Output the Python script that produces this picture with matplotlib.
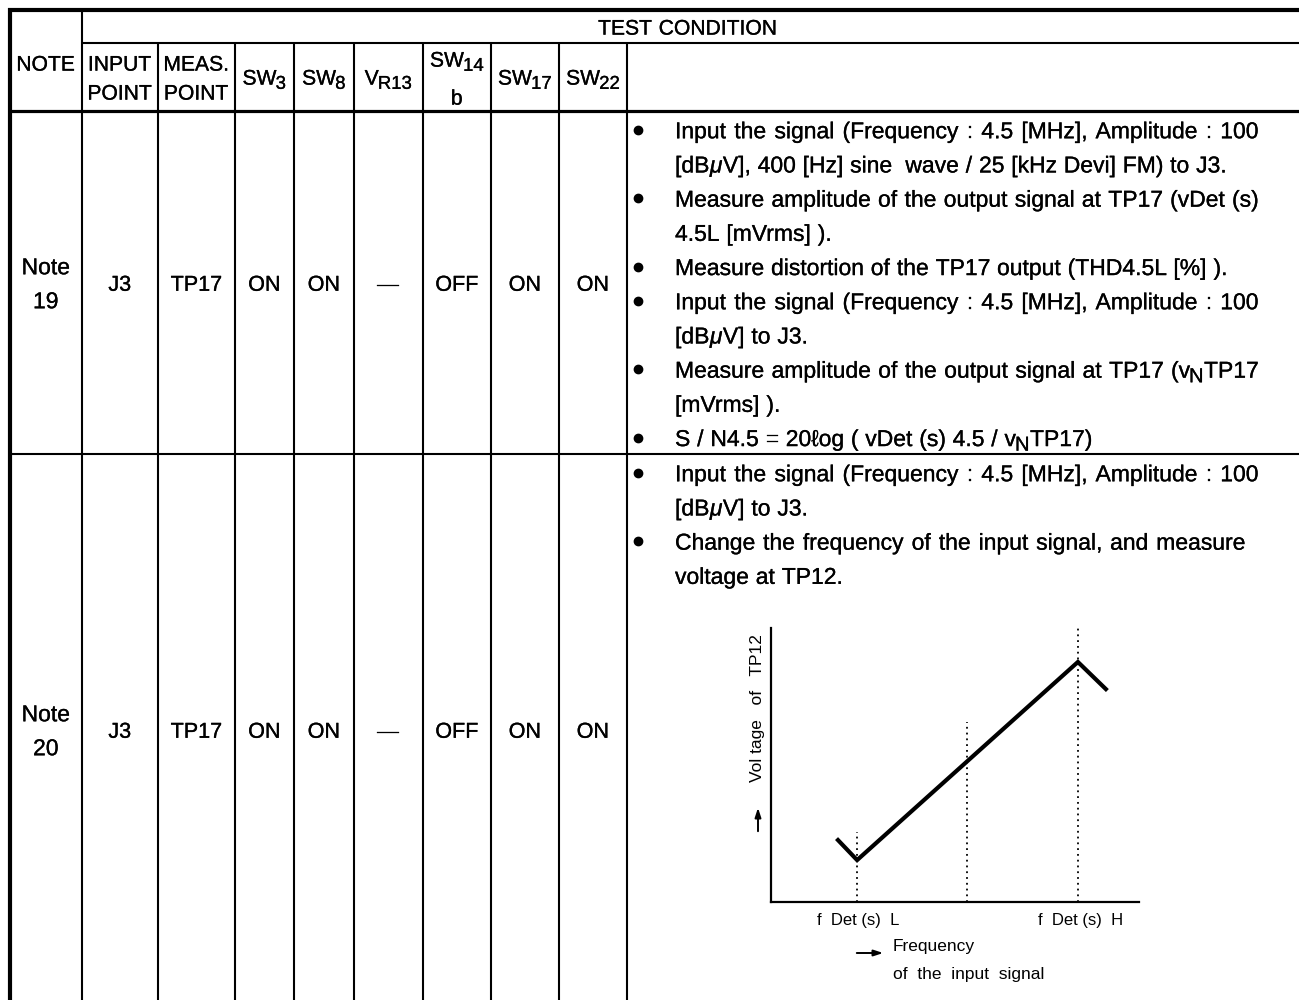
import matplotlib
matplotlib.use("Agg")
import matplotlib.pyplot as plt
from matplotlib import font_manager
import matplotlib.patheffects as pe

# ---------------- data ----------------
header_title = "TEST CONDITION"
col_headers = ["NOTE", "INPUT\nPOINT", "MEAS.\nPOINT", "SW_{3}", "SW_{8}", "V_{R13}", "SW_{14}\nb", "SW_{17}", "SW_{22}"]
notes = ["Note\n19", "Note\n20"]
input_point = ["J3", "J3"]
meas_point = ["TP17", "TP17"]
sw3 = ["ON", "ON"]
sw8 = ["ON", "ON"]
vr13 = ["\u2014", "\u2014"]
sw14b = ["OFF", "OFF"]
sw17 = ["ON", "ON"]
sw22 = ["ON", "ON"]

# (text, bullet, justified)
cond19 = [
    ("Input the signal (Frequency : 4.5 [MHz], Amplitude : 100", True, True),
    ("[dBμV], 400 [Hz] sine  wave / 25 [kHz Devi] FM) to J3.", False, False),
    ("Measure amplitude of the output signal at TP17 (vDet (s)", True, True),
    ("4.5L [mVrms] ).", False, False),
    ("Measure distortion of the TP17 output (THD4.5L [%] ).", True, False),
    ("Input the signal (Frequency : 4.5 [MHz], Amplitude : 100", True, True),
    ("[dBμV] to J3.", False, False),
    ("Measure amplitude of the output signal at TP17 (v_{N}TP17", True, True),
    ("[mVrms] ).", False, False),
    ("S / N4.5 = 20ℓog ( vDet (s) 4.5 / v_{N}TP17)", True, False),
]
cond20 = [
    ("Input the signal (Frequency : 4.5 [MHz], Amplitude : 100", True, True),
    ("[dBμV] to J3.", False, False),
    ("Change the frequency of the input signal, and measure", True, True),
    ("voltage at TP12.", False, False),
]

# chart (Voltage of TP12 vs frequency, arbitrary units 0-100)
freq = [18.2, 23.4, 83.4, 91.0]
voltage = [22.6, 15.3, 87.6, 77.7]
marker_freq = [23.4, 53.3, 83.4]
marker_top = [25.5, 65.7, 100.0]
xlabels = ["f  Det (s)  L", "f  Det (s)  H"]
ylabel = "Vol tage   of   TP12"
xcaption = ["Frequency", "of  the  input  signal"]

# ---------------- fonts ----------------
names = {f.name for f in font_manager.fontManager.ttflist}
if "Liberation Sans Narrow" in names:
    MAIN = ["Liberation Sans Narrow", "Liberation Sans", "DejaVu Sans"]
else:
    MAIN = ["Liberation Sans", "DejaVu Sans"]
plt.rcParams["font.family"] = MAIN
HEAVY = [pe.withStroke(linewidth=0.2, foreground="black")]

W, H = 1299, 1000
fig = plt.figure(figsize=(W / 100, H / 100), dpi=100)
ax = fig.add_axes([0, 0, 1, 1])
ax.set_xlim(0, W)
ax.set_ylim(H, 0)
ax.axis("off")
renderer = fig.canvas.get_renderer()


def parse(s):
    segs, buf, i = [], "", 0
    while i < len(s):
        if s[i] == "_" and i + 1 < len(s) and s[i + 1] == "{":
            j = s.index("}", i)
            if buf:
                segs.append((buf, "n")); buf = ""
            segs.append((s[i + 2:j], "sub")); i = j + 1; continue
        if s[i] == "μ":
            if buf:
                segs.append((buf, "n")); buf = ""
            segs.append(("μ", "it")); i += 1; continue
        buf += s[i]; i += 1
    if buf:
        segs.append((buf, "n"))
    return segs


def seg_kw(kind, fs):
    if kind == "sub":
        return dict(fontsize=fs * 0.88), 0.2, -1.5
    if kind == "it":
        return dict(fontsize=fs, style="italic"), 0.0, 0.0
    return dict(fontsize=fs), 0.0, 0.0


def measure(s, fs, **kw):
    t = ax.text(0, 0, s, fontsize=fs, **kw)
    w = t.get_window_extent(renderer).width
    t.remove()
    return w


def word_width(word, fs):
    w = 0
    for txt, kind in parse(word):
        kw, _, pre = seg_kw(kind, fs)
        fsz = kw.pop("fontsize")
        w += pre + measure(txt, fsz, **kw) + 0.5
    return w


def draw_word(x, yb, word, fs):
    for txt, kind in parse(word):
        kw, dy, pre = seg_kw(kind, fs)
        x += pre
        t = ax.text(x, yb + dy * fs * 100 / 72, txt, va="baseline", ha="left",
                    path_effects=HEAVY, **kw)
        x += t.get_window_extent(renderer).width + 0.5
    return x


def draw_line(x, yc, text, fs, ha="left", justify_to=None):
    yb = yc + 0.36 * fs * 100 / 72
    words = text.split(" ")
    sp = measure("a a", fs) - measure("aa", fs)
    ws = [word_width(w, fs) if w else 0.0 for w in words]
    total = sum(ws) + sp * (len(words) - 1)
    gap = sp
    if justify_to is not None and len(words) > 1:
        gap = (justify_to - x - sum(ws)) / (len(words) - 1)
    if ha == "center":
        x = x - total / 2
    for w, wd in zip(words, ws):
        if w:
            draw_word(x, yb, w, fs)
        x += wd + gap


# auto-fit main font size so a reference line has its natural width
FS = 10 * 551 / sum([word_width(w, 10) for w in cond19[4][0].split(" ")] +
                    [(measure("a a", 10) - measure("aa", 10)) * 7])


def cell_fs(s):
    return FS if any(c.islower() for c in s if c != "b") else FS * 0.94


# ---------------- table grid ----------------
col_edges = [10, 82, 158, 235, 294, 354, 423, 491, 559, 627]
y_top, y_title, y_head, y_row = 9.5, 43, 111, 454
thin = 1.5
ax.hlines(y_top, 8, W, color="black", lw=3.0)
ax.vlines(col_edges[0], 8, H, color="black", lw=3.0)
ax.hlines(y_title, col_edges[1], W, color="black", lw=thin)
ax.hlines(y_head, 8, W, color="black", lw=2.3)
ax.hlines(y_row, 8, W, color="black", lw=thin)
ax.vlines(col_edges[1], y_top, H, color="black", lw=thin)
ax.vlines(col_edges[2:], y_title, H, color="black", lw=thin)

# ---------------- header ----------------
draw_line(688, 27, header_title, FS * 0.92, ha="center")
centers = [(a + b) / 2 for a, b in zip(col_edges[:-1], col_edges[1:])]
for cx, lab in zip(centers, col_headers):
    parts = lab.split("\n")
    f = FS * 0.92
    if len(parts) == 1:
        draw_line(cx, 77 if lab != "NOTE" else 63, lab, f, ha="center")
    elif lab.startswith("SW"):
        draw_line(cx, 59, parts[0], f, ha="center")
        draw_line(cx, 97, parts[1], f, ha="center")
    else:
        draw_line(cx, 63, parts[0], f, ha="center")
        draw_line(cx, 92, parts[1], f, ha="center")

# ---------------- body rows ----------------
row_mid = [283, 730]
cols = [notes, input_point, meas_point, sw3, sw8, vr13, sw14b, sw17, sw22]
for r in range(2):
    for cx, col in zip(centers, cols):
        val = col[r]
        if "\n" in val:
            a, b = val.split("\n")
            draw_line(cx, row_mid[r] - 17, a, FS, ha="center")
            draw_line(cx, row_mid[r] + 17, b, FS, ha="center")
        else:
            draw_line(cx, row_mid[r], val, cell_fs(val), ha="center")

x_bul, x_txt = 638, 675
for y0, lines in [(130, cond19), (473, cond20)]:
    for i, (txt, bul, just) in enumerate(lines):
        yc = y0 + i * 34.2
        if bul:
            ax.plot(x_bul, yc, "o", color="black", ms=6.0)
        tgt = None
        if just:
            tgt = 1246 if txt.startswith("Change") else 1259
        draw_line(x_txt, yc, txt, FS, justify_to=tgt)

# ---------------- embedded chart ----------------
cx0, cx1, cy0, cy1 = 771, 1139, 628, 902
cax = fig.add_axes([cx0 / W, 1 - cy1 / H, (cx1 - cx0) / W, (cy1 - cy0) / H])
cax.set_xlim(0, 100)
cax.set_ylim(0, 100)
cax.patch.set_alpha(0)
for s in ["top", "right"]:
    cax.spines[s].set_visible(False)
for s in ["left", "bottom"]:
    cax.spines[s].set_linewidth(1.6)
cax.set_xticks([])
cax.set_yticks([])
cax.plot(freq, voltage, color="black", lw=3.0, solid_joinstyle="miter", clip_on=False)
for xf, top in zip(marker_freq, marker_top):
    cax.plot([xf, xf], [0, top], color="black", lw=1.3, ls=(0, (1, 2.2)), clip_on=False)

small = 12.0
CH = ["Liberation Sans", "DejaVu Sans"]
for lab, xf in zip(xlabels, [marker_freq[0], marker_freq[2]]):
    px = cx0 + xf / 100 * (cx1 - cx0)
    ax.text(px - 40, 920, lab, fontsize=small, va="center", ha="left", family=CH)
ax.text(758, 708, ylabel, rotation=90, fontsize=small + 0.5, va="center", ha="center", family=CH)
ax.annotate("", xy=(758, 805), xytext=(758, 834),
            arrowprops=dict(arrowstyle="-|>,head_length=0.55,head_width=0.18", color="black", lw=1.4))
ax.annotate("", xy=(886, 953), xytext=(854, 953),
            arrowprops=dict(arrowstyle="-|>,head_length=0.55,head_width=0.18", color="black", lw=1.4))
ax.text(893, 947, xcaption[0], fontsize=small + 0.5, va="center", ha="left", family=CH)
ax.text(893, 975, xcaption[1], fontsize=small + 0.5, va="center", ha="left", family=CH)

fig.savefig("out.png", dpi=100, facecolor="white")
